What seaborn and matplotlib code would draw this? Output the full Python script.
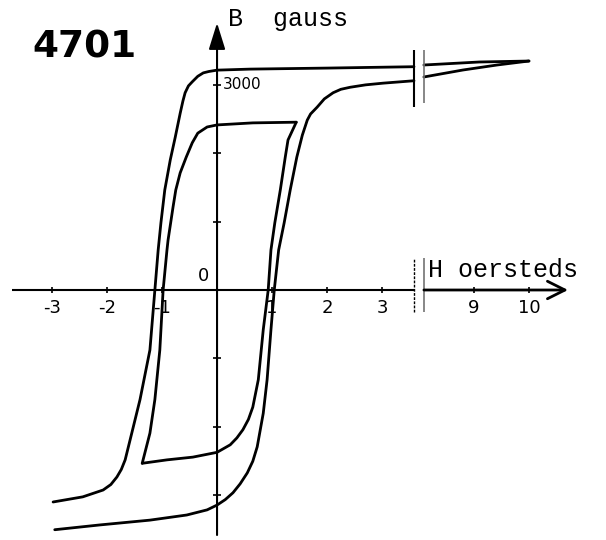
import numpy as np
import pandas as pd
import matplotlib
matplotlib.use("Agg")
import matplotlib.pyplot as plt
import seaborn as sns

# ferrite 4701 hysteresis loops, H in oersteds, B in gauss
OUTER_DOWN_H = [3.58, 2.0, 0.6, 0.0, -0.15, -0.25, -0.35, -0.45, -0.52, -0.58,
                -0.62, -0.67, -0.76, -0.85, -0.95, -1.02, -1.07, -1.13, -1.22,
                -1.40, -1.55, -1.67, -1.74, -1.82, -1.93, -2.07, -2.44, -2.98]
OUTER_DOWN_B = [3260, 3240, 3225, 3210, 3190, 3170, 3120, 3040, 2980, 2880,
                2760, 2580, 2230, 1900, 1460, 980, 584, 0, -876,
                -1600, -2090, -2480, -2620, -2730, -2840, -2920, -3020, -3095]

OUTER_UP_H = [-2.95, -2.13, -1.22, -0.55, -0.18, 0.0, 0.15, 0.29, 0.42, 0.55,
              0.65, 0.73, 0.84, 0.91, 0.98, 1.04, 1.12, 1.22, 1.33, 1.45,
              1.55, 1.64, 1.70, 1.82, 1.95, 2.11, 2.25, 2.42, 2.7, 3.02, 3.58]
OUTER_UP_B = [-3500, -3430, -3360, -3285, -3210, -3140, -3060, -2960, -2830, -2670,
              -2500, -2290, -1800, -1310, -580, 0, 584, 980, 1460, 1940,
              2260, 2480, 2570, 2670, 2790, 2880, 2930, 2960, 2995, 3020, 3055]

# saturation part, right of the axis break
TIP_DOWN_H = [10.0, 9.1, 8.09]
TIP_DOWN_B = [3343, 3329, 3285]
TIP_UP_H = [8.09, 8.8, 9.42, 10.0]
TIP_UP_B = [3110, 3212, 3285, 3343]

INNER_DOWN_H = [1.44, 0.65, 0.0, -0.18, -0.35, -0.45, -0.56, -0.67, -0.75,
                -0.80, -0.89, -0.91, -0.98, -1.04, -1.13, -1.22, -1.36]
INNER_DOWN_B = [2450, 2440, 2410, 2380, 2290, 2150, 1940, 1710, 1460,
                1210, 730, 584, 0, -876, -1600, -2090, -2530]

INNER_UP_H = [-1.36, -0.91, -0.44, 0.0, 0.24, 0.36, 0.47, 0.57, 0.65, 0.75,
              0.84, 0.93, 0.98, 1.05, 1.15, 1.24, 1.29, 1.44]
INNER_UP_B = [-2530, -2480, -2440, -2370, -2260, -2160, -2040, -1890, -1710, -1310,
              -580, 0, 584, 980, 1460, 1940, 2190, 2450]

H_TICKS = [-3, -2, -1, 1, 2, 3, 9, 10]
H_TICK_LABELS = ["-3", "-2", "-1", "1", "2", "3", "9", "10"]
B_TICKS = [-3000, -2000, -1000, 1000, 2000, 3000]

BREAK_LO = 3.58
BREAK_HI = 8.09
GAP = 0.18


def fwd(h):
    return np.interp(h, [-50, BREAK_LO, BREAK_HI, 50],
                     [-50, BREAK_LO, BREAK_LO + GAP, 50 - (BREAK_HI - BREAK_LO - GAP)])


def inv(u):
    return np.interp(u, [-50, BREAK_LO, BREAK_LO + GAP, 50 - (BREAK_HI - BREAK_LO - GAP)],
                     [-50, BREAK_LO, BREAK_HI, 50])


segments = [
    ("outer_down", OUTER_DOWN_H, OUTER_DOWN_B),
    ("outer_up", OUTER_UP_H, OUTER_UP_B),
    ("tip_down", TIP_DOWN_H, TIP_DOWN_B),
    ("tip_up", TIP_UP_H, TIP_UP_B),
    ("inner_down", INNER_DOWN_H, INNER_DOWN_B),
    ("inner_up", INNER_UP_H, INNER_UP_B),
]
df = pd.concat([pd.DataFrame({"H": h, "B": b, "seg": name}) for name, h, b in segments])

sns.set_theme(style="white")
plt.rcParams["font.family"] = ["DejaVu Sans"]
plt.rcParams["axes.unicode_minus"] = False
plt.rcParams["text.color"] = "black"

fig = plt.figure(figsize=(6.06, 5.40), dpi=100)
ax = fig.add_axes([0, 0, 1, 1])

sns.lineplot(data=df, x="H", y="B", units="seg", estimator=None, sort=False,
             color="black", lw=2.0, ax=ax)
for line in ax.lines:
    line.set_solid_joinstyle("round")

ax.set_xscale("function", functions=(fwd, inv))
ax.set_xlim(-3.945, 11.40)
ax.set_ylim(-3650, 4234)
ax.set_xlabel("")
ax.set_ylabel("")

for side in ["top", "right", "left", "bottom"]:
    ax.spines[side].set_visible(False)
ax.spines["left"].set_position(("data", 0))
ax.spines["bottom"].set_position(("data", 0))

ax.set_xticks(H_TICKS)
ax.set_xticklabels(H_TICK_LABELS)
ax.set_yticks(B_TICKS)
ax.tick_params(axis="x", direction="inout", length=5, width=1.2, pad=4,
               labelsize=13, colors="black", bottom=True)
ax.tick_params(axis="y", direction="inout", length=6, width=1.2,
               labelleft=False, left=True, colors="black")

# axes drawn as arrows, with the break on H
ax.hlines(0, -3.73, BREAK_LO, color="black", lw=1.5)
ax.annotate("", xy=(10.71, 0), xytext=(BREAK_HI, 0),
            arrowprops=dict(arrowstyle="->,head_length=0.7,head_width=0.35",
                            lw=2.0, color="black", mutation_scale=18,
                            shrinkA=0, shrinkB=0))
ax.annotate("", xy=(0, 3900), xytext=(0, -3577),
            arrowprops=dict(arrowstyle="-|>,head_length=0.9,head_width=0.28",
                            lw=1.5, color="black", mutation_scale=18,
                            shrinkA=0, shrinkB=0))

ax.vlines(BREAK_LO, 2672, 3504, color="black", lw=1.5)
ax.vlines(BREAK_HI, 2730, 3504, color="0.45", lw=1.2)
ax.vlines(BREAK_LO, -320, 470, color="black", lw=1.0, linestyles=(0, (2, 1)))
ax.vlines(BREAK_HI, -320, 470, color="0.45", lw=1.2)

ax.text(-0.24, 200, "0", ha="center", va="center", fontsize=13)
ax.annotate("3000", (0, 3000), xytext=(4, 0), textcoords="offset points",
            ha="left", va="center", fontsize=11)
ax.text(0.2, 3957, "B  gauss", ha="left", va="center", fontsize=18,
        family="Liberation Mono")
ax.text(8.17, 292, "H oersteds", ha="left", va="center", fontsize=18,
        family="Liberation Mono")
fig.text(85 / 606, 1 - 48 / 540, "4701", ha="center", va="center",
         fontsize=27, fontweight="bold", color="black")

fig.savefig("out.png", dpi=100)
